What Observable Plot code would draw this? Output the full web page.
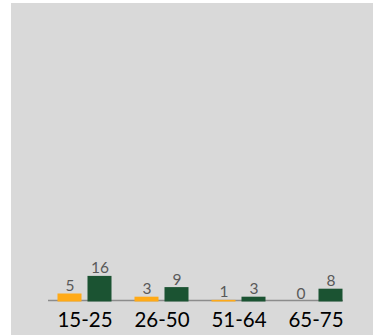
<!DOCTYPE html>
<html>
<head>
<meta charset="utf-8">
<script src="https://cdn.jsdelivr.net/npm/d3@7"></script>
<script src="https://cdn.jsdelivr.net/npm/@observablehq/plot@0.6"></script>
<style>
  html, body { margin: 0; padding: 0; background: #ffffff; }
  #wrap { position: relative; width: 374px; height: 335px; overflow: hidden; }
  #bg { position: absolute; left: 11px; top: 3px; width: 362px; height: 332px; background: #d9d9d9; }
  #chart { position: absolute; left: 0; top: 0; }
  #chart svg { background: transparent; }
</style>
</head>
<body>
<div id="wrap"><div id="bg"></div><div id="chart"></div></div>
<script>
const categories = ["15-25", "26-50", "51-64", "65-75"];
const seriesA = [5, 3, 1, 0];   // orange
const seriesB = [16, 9, 3, 8];  // dark green

const data = categories.map((c, i) => ({cat: c, a: seriesA[i], b: seriesB[i]}));

const orange = "#ffaa17";
const green = "#1b5332";

const chart = Plot.plot({
  width: 374,
  height: 335,
  marginLeft: 48,
  marginRight: 31,
  marginTop: 13.5,
  marginBottom: 33.5,
  style: {background: "transparent", fontFamily: "Lato, 'Open Sans', sans-serif"},
  x: {type: "band", domain: categories, range: [45.5, 353.5], padding: 0, label: null},
  y: {domain: [0, 180], axis: null, label: null},
  marks: [
    Plot.ruleY([0], {stroke: "#8c8c8c", strokeWidth: 1.5, dy: -1.5}),
    Plot.barY(data, {x: "cat", y: "a", fill: orange, insetLeft: 11.5, insetRight: 41.5}),
    Plot.barY(data, {x: "cat", y: "b", fill: green, insetLeft: 41.5, insetRight: 11.5}),
    Plot.text(data, {x: "cat", y: "a", text: d => String(d.a), dx: -15, dy: -3, lineAnchor: "bottom", textAnchor: "middle", fill: "#595959", fontSize: 15.5}),
    Plot.text(data, {x: "cat", y: "b", text: d => String(d.b), dx: 15, dy: -3, lineAnchor: "bottom", textAnchor: "middle", fill: "#595959", fontSize: 15.5}),
    Plot.axisX({tickSize: 0, tickPadding: 10.5, fontSize: 20.5, color: "#000000", label: null})
  ]
});
document.getElementById("chart").appendChild(chart);
</script>
</body>
</html>
